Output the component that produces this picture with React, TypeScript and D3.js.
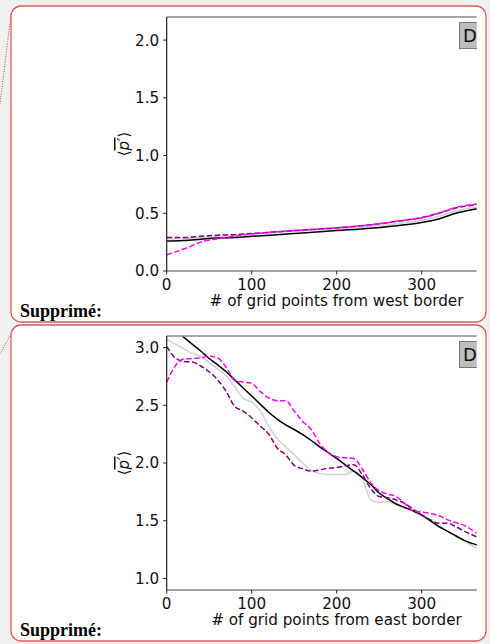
import React from "react";
import * as d3 from "d3";

// ---------- data ----------
const topX = [0, 20, 40, 60, 80, 100, 130, 160, 200, 240, 280, 300, 320, 340, 365];
const topBlack = [0.26, 0.265, 0.275, 0.285, 0.29, 0.3, 0.315, 0.33, 0.35, 0.37, 0.4, 0.42, 0.45, 0.5, 0.54];
const topGray = [0.28, 0.28, 0.29, 0.3, 0.31, 0.32, 0.335, 0.35, 0.366, 0.385, 0.418, 0.44, 0.475, 0.52, 0.555];
const topPurple = [0.29, 0.29, 0.3, 0.31, 0.315, 0.325, 0.34, 0.355, 0.373, 0.4, 0.44, 0.463, 0.5, 0.545, 0.575];
const topMagenta = [0.14, 0.19, 0.25, 0.28, 0.3, 0.32, 0.34, 0.355, 0.375, 0.4, 0.44, 0.46, 0.5, 0.55, 0.58];

const botX = [0, 10, 20, 30, 40, 50, 60, 70, 80, 90, 100, 110, 120, 130, 140, 150, 160, 170, 180, 190, 200, 210, 220, 230, 240, 250, 260, 270, 280, 290, 300, 310, 320, 330, 340, 350, 365];
const botBlack = [3.22, 3.16, 3.09, 3.03, 2.97, 2.905, 2.85, 2.79, 2.72, 2.65, 2.58, 2.51, 2.44, 2.38, 2.33, 2.29, 2.245, 2.195, 2.14, 2.09, 2.04, 1.985, 1.93, 1.875, 1.815, 1.74, 1.69, 1.645, 1.615, 1.585, 1.55, 1.5, 1.45, 1.41, 1.37, 1.33, 1.29];
const botGray = [3.07, 3.03, 2.99, 2.95, 2.92, 2.87, 2.81, 2.755, 2.66, 2.56, 2.53, 2.45, 2.32, 2.21, 2.14, 2.07, 2.0, 1.935, 1.91, 1.9, 1.9, 1.9, 1.93, 1.87, 1.68, 1.66, 1.665, 1.64, 1.61, 1.58, 1.54, 1.5, 1.455, 1.41, 1.37, 1.325, 1.26];
const botPurple = [3.01, 2.91, 2.88, 2.875, 2.84, 2.79, 2.72, 2.62, 2.49, 2.45, 2.39, 2.32, 2.25, 2.13, 2.07, 1.98, 1.95, 1.93, 1.94, 1.955, 1.96, 1.975, 1.985, 1.9, 1.78, 1.71, 1.7, 1.68, 1.65, 1.6, 1.55, 1.51, 1.478, 1.478, 1.45, 1.41, 1.36];
const botMagenta = [2.7, 2.84, 2.9, 2.905, 2.91, 2.925, 2.91, 2.83, 2.715, 2.7, 2.69, 2.62, 2.565, 2.54, 2.54, 2.45, 2.36, 2.29, 2.17, 2.09, 2.055, 2.045, 2.04, 1.95, 1.83, 1.76, 1.73, 1.71, 1.65, 1.585, 1.575, 1.565, 1.545, 1.51, 1.485, 1.46, 1.39];

const xTicks = [0, 100, 200, 300];
const topYTicks = [0.0, 0.5, 1.0, 1.5, 2.0];
const botYTicks = [1.0, 1.5, 2.0, 2.5, 3.0];
const topXLabel = "# of grid points from west border";
const botXLabel = "# of grid points from east border";
const boxLabel = "Supprimé:";
const legendText = "D.";

const FONT = "DejaVu Sans, sans-serif";
const FS = 15.2;

type SeriesDef = { xs: number[]; ys: number[]; color: string; dash?: string; width: number };

function Panel(props: {
  id: string;
  offY: number;
  yDomain: [number, number];
  yTicks: number[];
  xLabel: string;
  series: SeriesDef[];
}) {
  const { id, offY, yDomain, yTicks, xLabel, series } = props;
  const boxX = 11, boxW = 475, boxH = 316;
  const axTop = offY + 11;
  const axBot = offY + 265;
  const axLeft = 166.7;
  const clipRight = 476.8;
  const x = d3.scaleLinear().domain([0, 365]).range([axLeft, 476.95]);
  const y = d3.scaleLinear().domain(yDomain).range([axBot, axTop]);
  const line = (s: SeriesDef) =>
    d3
      .line<number>()
      .x((_, i) => x(s.xs[i]))
      .y((v) => y(v))
      .curve(d3.curveMonotoneX)(s.ys) || "";

  return (
    <g>
      <defs>
        <clipPath id={`box-${id}`}>
          <rect x={boxX} y={offY} width={boxW} height={boxH} rx={10} />
        </clipPath>
        <clipPath id={`fig-${id}`}>
          <rect x={0} y={offY} width={clipRight} height={boxH} />
        </clipPath>
        <clipPath id={`ax-${id}`}>
          <rect x={axLeft} y={axTop} width={clipRight - axLeft} height={axBot - axTop} />
        </clipPath>
      </defs>
      <rect x={boxX} y={offY} width={boxW} height={boxH} rx={10} fill="#ffffff" />
      <g clipPath={`url(#box-${id})`}>
        <g clipPath={`url(#fig-${id})`}>
          {/* data lines */}
          <g clipPath={`url(#ax-${id})`}>
            {series.map((s, i) => (
              <path
                key={i}
                d={line(s)}
                fill="none"
                stroke={s.color}
                strokeWidth={s.width}
                strokeDasharray={s.dash}
              />
            ))}
          </g>
          {/* spines */}
          <line x1={axLeft} x2={clipRight} y1={axTop} y2={axTop} stroke="#8a8a8a" strokeWidth={1.5} />
          <line x1={axLeft} x2={clipRight} y1={axBot} y2={axBot} stroke="#444" strokeWidth={1.2} />
          <line x1={axLeft} x2={axLeft} y1={axTop} y2={axBot} stroke="#222" strokeWidth={1.2} />
          {/* x ticks */}
          {xTicks.map((t) => (
            <g key={t}>
              <line x1={x(t)} x2={x(t)} y1={axBot} y2={axBot + 3.5} stroke="#222" strokeWidth={1} />
              <text x={x(t)} y={axBot + 18.5} textAnchor="middle" fontFamily={FONT} fontSize={FS} fill="#111">
                {t}
              </text>
            </g>
          ))}
          {/* y ticks */}
          {yTicks.map((t) => (
            <g key={t}>
              <line x1={axLeft - 3.5} x2={axLeft} y1={y(t)} y2={y(t)} stroke="#222" strokeWidth={1} />
              <text
                x={axLeft - 7.5}
                y={y(t)}
                dy="0.36em"
                textAnchor="end"
                fontFamily={FONT}
                fontSize={FS}
                fill="#111"
              >
                {t.toFixed(1)}
              </text>
            </g>
          ))}
          {/* y label */}
          <g transform={`translate(129, ${(axTop + axBot) / 2}) rotate(-90)`}>
            <text textAnchor="middle" fontFamily={FONT} fontSize={15} fill="#111">
              <tspan>⟨</tspan>
              <tspan fontStyle="italic" style={{ textDecoration: "overline" }}>
                p′
              </tspan>
              <tspan>⟩</tspan>
            </text>
          </g>
          {/* x label */}
          <text x={336.5} y={axBot + 35} textAnchor="middle" fontFamily={FONT} fontSize={FS} fill="#111">
            {xLabel}
          </text>
          {/* legend stub */}
          <rect x={459.5} y={offY + 16.5} width={30} height={26} fill="#bdbdbd" stroke="#777" strokeWidth={1} />
          <text x={463} y={offY + 36} fontFamily={FONT} fontSize={18} fill="#111">
            {legendText}
          </text>
        </g>
        <text
          x={20}
          y={offY + 311}
          fontFamily="Liberation Serif, Times New Roman, serif"
          fontWeight="bold"
          fontSize={18}
          fill="#000"
        >
          {boxLabel}
        </text>
      </g>
      <rect x={boxX} y={offY} width={boxW} height={boxH} rx={10} fill="none" stroke="#dc5c5c" strokeWidth={1.3} />
    </g>
  );
}

export default function App() {
  const mk = (xs: number[], ys: number[], color: string, width: number, dash?: string): SeriesDef => ({
    xs,
    ys,
    color,
    width,
    dash,
  });
  const topSeries = [
    mk(topX, topGray, "#d0d0d0", 1.5),
    mk(topX, topBlack, "#000000", 1.5),
    mk(topX, topPurple, "#800080", 1.5, "5.5,2.5"),
    mk(topX, topMagenta, "#ff00ff", 1.5, "5.5,2.5"),
  ];
  const botSeries = [
    mk(botX, botGray, "#d0d0d0", 1.5),
    mk(botX, botBlack, "#000000", 1.5),
    mk(botX, botPurple, "#800080", 1.5, "5.5,2.5"),
    mk(botX, botMagenta, "#ff00ff", 1.5, "5.5,2.5"),
  ];
  return (
    <svg
      width={490}
      height={644}
      style={{ position: "absolute", left: 0, top: 0, display: "block" }}
      xmlns="http://www.w3.org/2000/svg"
    >
      <rect x={0} y={0} width={490} height={644} fill="#f0f0f0" />
      <line x1={11} y1={14} x2={0} y2={104} stroke="#d44" strokeWidth={1} strokeDasharray="1,1.5" />
      <line x1={11} y1={334} x2={0} y2={354} stroke="#d44" strokeWidth={1} strokeDasharray="1,1.5" />
      <Panel id="top" offY={6} yDomain={[0, 2.2]} yTicks={topYTicks} xLabel={topXLabel} series={topSeries} />
      <Panel id="bot" offY={325} yDomain={[0.9, 3.1]} yTicks={botYTicks} xLabel={botXLabel} series={botSeries} />
    </svg>
  );
}
